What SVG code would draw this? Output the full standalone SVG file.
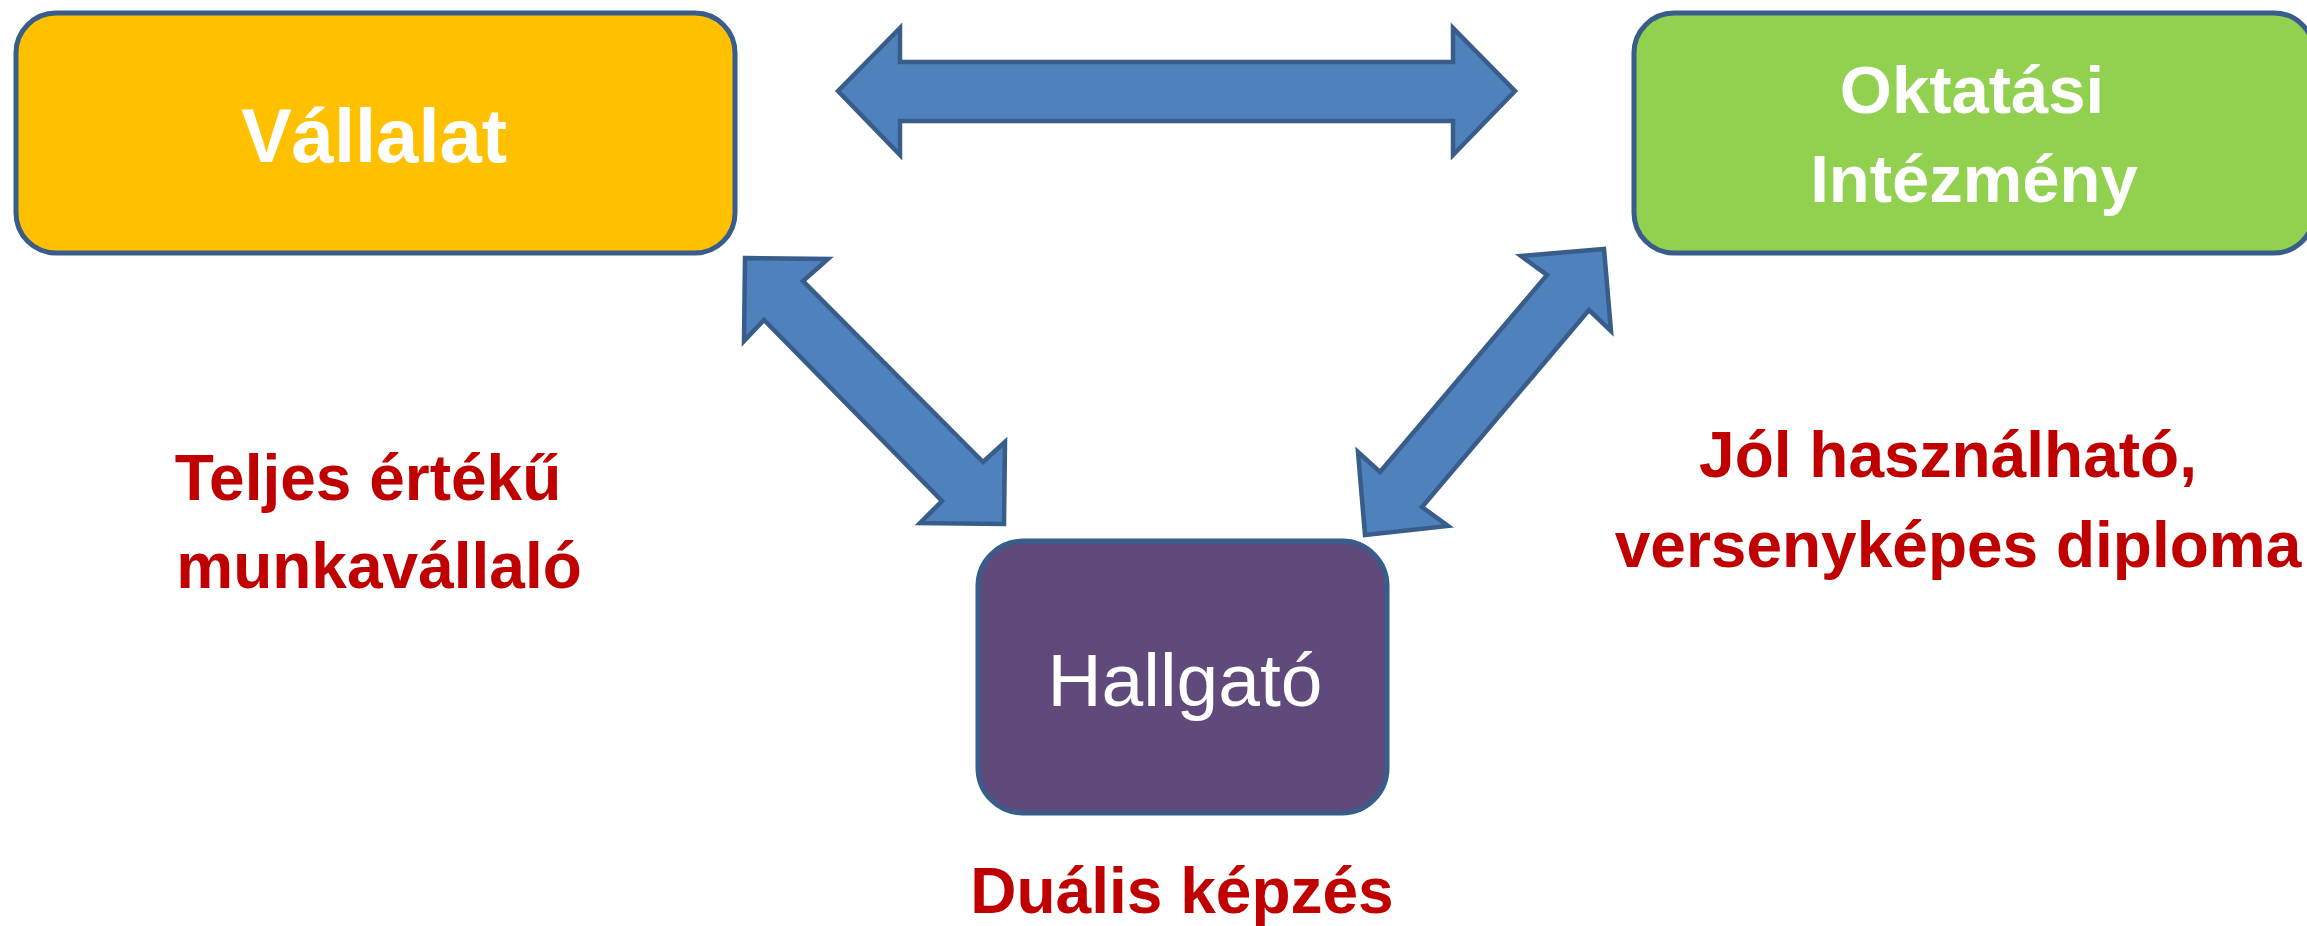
<svg xmlns="http://www.w3.org/2000/svg" width="2307" height="926" viewBox="0 0 2307 926">
<style>
.box{stroke:#385D8A;stroke-width:5}
.arrow{fill:#4F81BD;stroke:#385D8A;stroke-width:4.5;stroke-linejoin:miter}
.wt{fill:#FFFFFF;font-family:"Liberation Sans",Arial,sans-serif;text-anchor:middle}
.rt{fill:#C00000;font-family:"Liberation Sans",Arial,sans-serif;font-weight:bold;font-size:64px;text-anchor:middle}
</style>
<rect width="2307" height="926" fill="#FFFFFF"/>
<g id="connectors">
<polygon class="arrow" points="838,91 900,28 900,62 1453,62 1453,28 1515,91 1453,155 1453,121 900,121 900,155"/>
<polygon class="arrow" points="745,258 828,259 803,281 983,462 1005,442 1004,524 920,523 942,501 764,320 744,341"/>
<polygon class="arrow" points="1521,256 1604,249 1611,331 1589,310 1422,507 1448,526 1365,535 1358,452 1380,472 1547,275"/>
</g>
<g id="vallalat">
<rect class="box" x="16" y="13" width="719" height="240" rx="40" ry="40" fill="#FFC000"/>
<text class="wt" x="374" y="162" font-size="76" font-weight="bold">Vállalat</text>
</g>
<g id="oktatasi">
<rect class="box" x="1634" y="13" width="680" height="240" rx="40" ry="40" fill="#92D050"/>
<text class="wt" x="1972" y="113" font-size="67" font-weight="bold">Oktatási</text>
<text class="wt" x="1974" y="202" font-size="67" font-weight="bold">Intézmény</text>
</g>
<g id="hallgato">
<rect class="box" x="978" y="541" width="409" height="272" rx="45" ry="45" fill="#604A7B"/>
<text class="wt" x="1185" y="706" font-size="75">Hallgató</text>
</g>
<g id="label-vallalat">
<text class="rt" x="368" y="500">Teljes értékű</text>
<text class="rt" x="379" y="588">munkavállaló</text>
</g>
<g id="label-oktatasi">
<text class="rt" x="1948" y="477">Jól használható,</text>
<text class="rt" x="1958" y="567">versenyképes diploma</text>
</g>
<g id="label-hallgato">
<text class="rt" x="1182" y="913">Duális képzés</text>
</g>
</svg>
